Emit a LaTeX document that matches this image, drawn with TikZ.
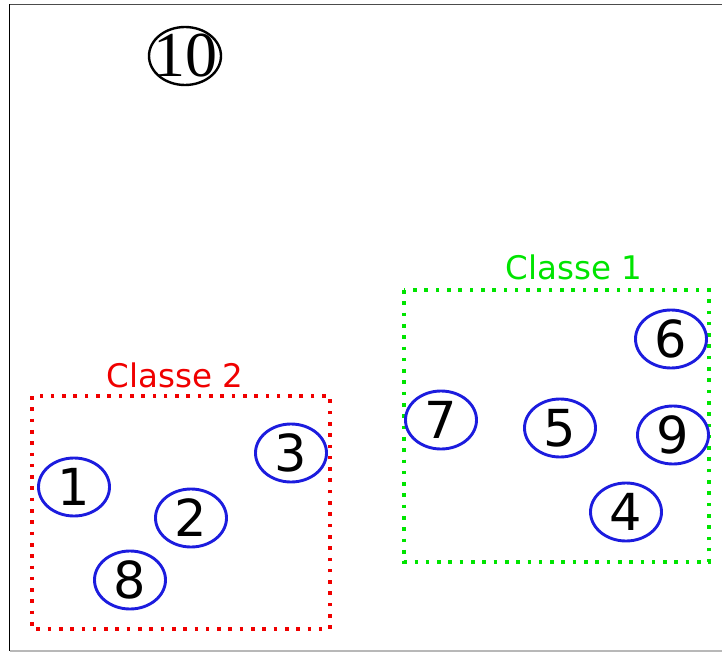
\documentclass[tikz,border=0pt]{standalone}
\usepackage{fontspec}
\newfontfamily\labelfont{DejaVu Sans}
\newfontfamily\serifdigits{Liberation Serif}
\usetikzlibrary{shapes.geometric}
\definecolor{ptblue}{RGB}{28,28,222}
\definecolor{ptred}{RGB}{240,0,0}
\definecolor{ptgreen}{RGB}{0,228,0}
\tikzset{
  point/.style={ellipse, draw=ptblue, line width=2.9pt, minimum width=71pt,
    minimum height=58pt, inner sep=0pt,
    font=\labelfont\fontsize{51}{51}\selectfont},
  outlier/.style={ellipse, draw=black, line width=2.4pt, minimum width=72pt,
    minimum height=58pt, inner sep=0pt},
  classbox/.style={draw=#1, line width=3.6pt, dash pattern=on 3.6pt off 7.7pt},
  classname/.style={text=#1, anchor=base, inner sep=0pt,
    font=\labelfont\fontsize{32.5}{32.5}\selectfont},
}
\begin{document}
\begin{tikzpicture}[x=1pt, y=-1pt]
  \useasboundingbox (0,0) rectangle (722,652);
  % frame edges
  \draw[line width=1.5pt, black!70] (9.5,4.5) -- (722,4.5);
  \draw[line width=1.5pt, black] (9.5,4.5) -- (9.5,651);
  \draw[line width=1.5pt, black!28] (9.5,651) -- (722,651);

  % class regions
  \draw[classbox=ptred] (32,396) rectangle (330,629);
  \draw[classbox=ptgreen] (404,290) rectangle (709,562);
  \node[classname=ptred] (lab2) at (175,387) {Classe 2};
  \node[classname=ptgreen] (lab1) at (574,279) {Classe 1};

  % unlabelled point
  \node[outlier] (n10) at (185,56) {};
  \node[inner sep=0pt, font=\serifdigits\fontsize{64}{64}\selectfont] (t10) at (n10.center) {10};

  % points of class 2
  \node[point] (n1) at (74,487) {1};
  \node[point] (n2) at (191,518) {2};
  \node[point] (n3) at (291,453) {3};
  \node[point] (n8) at (130,580) {8};

  % points of class 1
  \node[point] (n6) at (671,339) {6};
  \node[point] (n7) at (441,420) {7};
  \node[point] (n5) at (560,428) {5};
  \node[point] (n9) at (673,435) {9};
  \node[point] (n4) at (626,512) {4};
\end{tikzpicture}
\end{document}
